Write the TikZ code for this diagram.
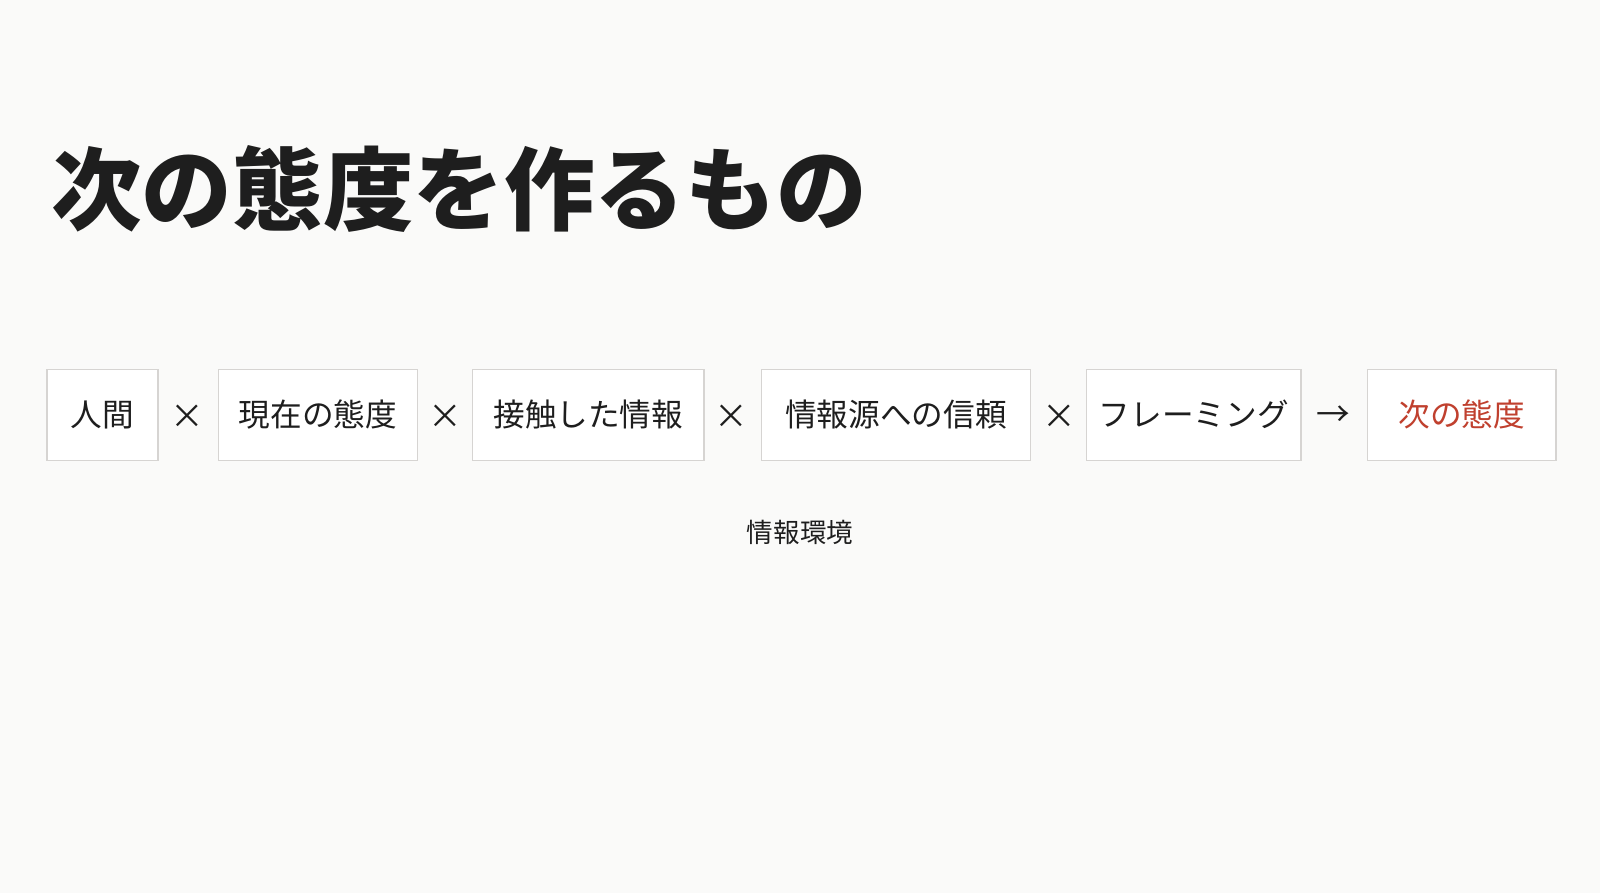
\documentclass[tikz,border=0pt]{standalone}
\usepackage{fontspec}
\newfontfamily\jp{Noto Sans CJK JP}
\definecolor{bg}{HTML}{FAFAF9}
\definecolor{boxline}{HTML}{D6D4D2}
\definecolor{ink}{HTML}{1E1E1E}
\definecolor{accent}{HTML}{C0402E}
\begin{document}
\begin{tikzpicture}[x=1pt,y=1pt,scale=1.0204,every node/.append style={transform shape},
  termbox/.style={draw=boxline, line width=1.4pt, fill=white, minimum height=89pt, inner sep=0pt, font=\jp\fontsize{31}{31}\selectfont, text=ink},
  op/.style={font=\jp\fontsize{33}{33}\selectfont, text=ink, inner sep=0pt}]
\fill[bg] (0,0) rectangle (1568,-875.2);
\useasboundingbox (0,0) rectangle (1568,-875.2);
\node[anchor=west, font=\jp\bfseries\fontsize{88.8}{88.8}\selectfont, text=ink, inner sep=0pt] (title) at (50,-185) {次の態度を作るもの};
\node[termbox, minimum width=109pt] (b1) at (100.5,-406.5) {人間};
\node[termbox, minimum width=195pt] (b2) at (311.5,-406.5) {現在の態度};
\node[termbox, minimum width=227pt] (b3) at (576.5,-406.5) {接触した情報};
\node[termbox, minimum width=264pt] (b4) at (878,-406.5) {情報源への信頼};
\node[termbox, minimum width=210pt] (b5) at (1170,-406.5) {フレーミング};
\node[termbox, minimum width=185pt, text=accent] (b6) at (1432.5,-406.5) {次の態度};
\node[op] (x1) at (184,-408) {×};
\node[op] (x2) at (436,-408) {×};
\node[op] (x3) at (717,-408) {×};
\node[op] (x4) at (1038,-408) {×};
\node[op] (ar) at (1307,-408) {→};
\node[font=\jp\fontsize{26}{26}\selectfont, text=ink, inner sep=0pt] (env) at (784,-522) {情報環境};
\end{tikzpicture}
\end{document}
